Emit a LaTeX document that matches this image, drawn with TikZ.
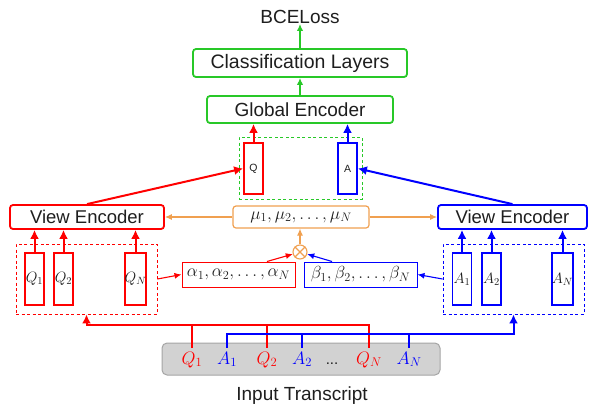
\RequirePackage{fix-cm}
\documentclass[tikz,border=0pt]{standalone}
\usepackage[no-math]{fontspec}
\setmainfont{Liberation Sans}
\usetikzlibrary{arrows.meta,calc}

\definecolor{cred}{RGB}{255,0,0}
\definecolor{cblue}{RGB}{0,0,255}
\definecolor{cgreen}{RGB}{40,200,40}
\definecolor{corange}{RGB}{240,160,80}
\definecolor{cgrayfill}{RGB}{210,210,210}
\definecolor{cgrayline}{RGB}{165,165,165}
\definecolor{ctext}{RGB}{30,30,30}

\tikzset{
  bigbox/.style={draw, rounded corners=3pt, line width=1.8pt, fill=white,
    inner sep=0pt, text=ctext, font=\fontsize{18.5}{22}\selectfont},
  seqbox/.style={draw, line width=1.8pt, minimum width=19pt, minimum height=52pt,
    inner sep=0pt, text=ctext, font=\fontsize{15}{16}\selectfont},
  topbox/.style={draw, line width=1.8pt, minimum width=19pt, minimum height=51pt,
    inner sep=0pt, text=ctext, font=\fontsize{10.5}{12}\selectfont},
  groupbox/.style={draw, dashed, dash pattern=on 3pt off 2.5pt, line width=0.9pt,
    minimum width=141pt, minimum height=70pt, inner sep=0pt},
  weightbox/.style={draw, line width=1pt, minimum width=113pt, minimum height=25pt,
    inner sep=0pt, text=ctext, font=\fontsize{17.5}{18}\selectfont},
  token/.style={anchor=base, inner sep=4pt, font=\fontsize{18}{20}\selectfont},
  arr/.style={-{Latex[length=9pt,width=9pt]}, line width=2pt},
  greenarr/.style={-{Latex[length=7pt,width=6.5pt]}, line width=1.4pt},
  thinarr/.style={-{Latex[length=7pt,width=6pt]}, line width=1.1pt},
  bus/.style={line width=2pt},
  label/.style={text=ctext, font=\fontsize{19}{22}\selectfont, inner sep=0pt}
}

\begin{document}
\begin{tikzpicture}[x=1pt,y=-1pt]
\useasboundingbox (0,0) rectangle (590,408);

% --- top stack: global encoder, classifier, loss
\node[label] (bce) at (300,17) {BCELoss};
\node[bigbox, draw=cgreen, minimum width=214pt, minimum height=28pt,
  font=\fontsize{19.5}{22}\selectfont] (cls) at (300,63) {Classification Layers};
\node[bigbox, draw=cgreen, minimum width=186pt, minimum height=27pt,
  font=\fontsize{19}{22}\selectfont] (glob) at (300,109.5) {Global Encoder};

% pooled question / answer vectors
\node[draw=cgreen, dashed, dash pattern=on 3pt off 2.5pt, line width=0.9pt,
  minimum width=123pt, minimum height=62pt, inner sep=0pt] (pool) at (300.5,168) {};
\node[topbox, draw=cred] (qtop) at (253.5,168.5) {Q};
\node[topbox, draw=cblue] (atop) at (347.5,168.5) {A};

% --- view encoders and attention weights
\node[bigbox, draw=cred, minimum width=154pt, minimum height=24pt] (veL) at (87,217) {View Encoder};
\node[bigbox, draw=cblue, minimum width=149pt, minimum height=24pt] (veR) at (512.5,217) {View Encoder};
\node[draw=corange, rounded corners=3pt, line width=1.2pt, minimum width=136pt,
  minimum height=22pt, inner sep=0pt, text=ctext, font=\fontsize{17.5}{18}\selectfont]
  (mu) at (301,217) {$\mu_1,\mu_2,\ldots,\mu_N$};
\node[draw=corange, circle, line width=1.1pt, minimum size=14pt, inner sep=0pt] (ot) at (300,252) {};
\draw[corange, line width=1.1pt] (ot.north west) -- (ot.south east) (ot.north east) -- (ot.south west);

\node[weightbox, draw=cred] (alpha) at (238.5,274.5) {$\alpha_1,\alpha_2,\ldots,\alpha_N$};
\node[weightbox, draw=cblue] (beta) at (360.5,274.5) {$\beta_1,\beta_2,\ldots,\beta_N$};

% --- per-turn inputs
\node[groupbox, draw=cred] (qgrp) at (86.5,279) {};
\node[groupbox, draw=cblue] (agrp) at (513.5,279) {};
\node[seqbox, draw=cred] (q1) at (34.5,279) {$Q_1$};
\node[seqbox, draw=cred] (q2) at (63.5,279) {$Q_2$};
\node[seqbox, draw=cred] (qn) at (135.5,279) {$Q_N$};
\node[seqbox, draw=cblue] (a1) at (462,279) {$A_1$};
\node[seqbox, draw=cblue] (a2) at (491.5,279) {$A_2$};
\node[seqbox, draw=cblue] (an) at (562.5,279) {$A_N$};

% --- transcript
\node[draw=cgrayline, fill=cgrayfill, rounded corners=5pt, line width=1pt,
  minimum width=278pt, minimum height=32pt, inner sep=0pt] (input) at (301,359) {};
\node[token, text=cred]  (tq1) at (192,364) {$Q_1$};
\node[token, text=cblue] (ta1) at (227,364) {$A_1$};
\node[token, text=cred]  (tq2) at (267,364) {$Q_2$};
\node[token, text=cblue] (ta2) at (302,364) {$A_2$};
\node[token, text=ctext, font=\fontsize{15}{18}\selectfont] (tdots) at (332,364) {...};
\node[token, text=cred]  (tqn) at (369,364) {$Q_N$};
\node[token, text=cblue] (tan) at (409,364) {$A_N$};
\node[label] (cap) at (302,396) {Input Transcript};

\coordinate (rbus) at (0,325);
\coordinate (bbus) at (0,334);

% --- connectors: transcript to groups
\draw[cred, bus] (tq1.north) -- (tq1.north |- rbus);
\draw[cred, bus] (tq2.north) -- (tq2.north |- rbus);
\draw[cred, arr] (tqn.north) -- (tqn.north |- rbus) -| (qgrp.south);
\draw[cblue, bus] (ta2.north) -- (ta2.north |- bbus);
\draw[cblue, bus] (tan.north) -- (tan.north |- bbus);
\draw[cblue, arr] (ta1.north) -- (ta1.north |- bbus) -| (agrp.south);

% --- turns to view encoders
\foreach \n in {q1,q2,qn} \draw[cred, arr] (\n.north) -- (\n.north |- veL.south);
\foreach \n in {a1,a2,an} \draw[cblue, arr] (\n.north) -- (\n.north |- veR.south);

% --- attention weights
\draw[cred, thinarr] (qgrp.east) -- (alpha.west);
\draw[cblue, thinarr] (agrp.west) -- (beta.east);
\draw[cred, thinarr] ($(alpha.north)!0.5!(alpha.north east)$) -- (ot);
\draw[cblue, thinarr] ($(beta.north west)!0.5!(beta.north)$) -- (ot);
\draw[corange, thinarr] (ot.north) -- (ot.north |- mu.south);
\draw[corange, thinarr] (mu.west) -- (veL.east);
\draw[corange, thinarr] (mu.east) -- (veR.west);

% --- view encoders to pooled vectors, then upward
\draw[cred, arr] (veL.north) -- (qtop.west);
\draw[cblue, arr] (veR.north) -- (atop.east);
\draw[cred, arr] (qtop.north) -- (qtop.north |- glob.south);
\draw[cblue, arr] (atop.north) -- (atop.north |- glob.south);
\draw[cgreen, greenarr] (glob.north) -- (cls.south);
\draw[cgreen, greenarr] (cls.north) -- (bce.south);
\end{tikzpicture}
\end{document}
